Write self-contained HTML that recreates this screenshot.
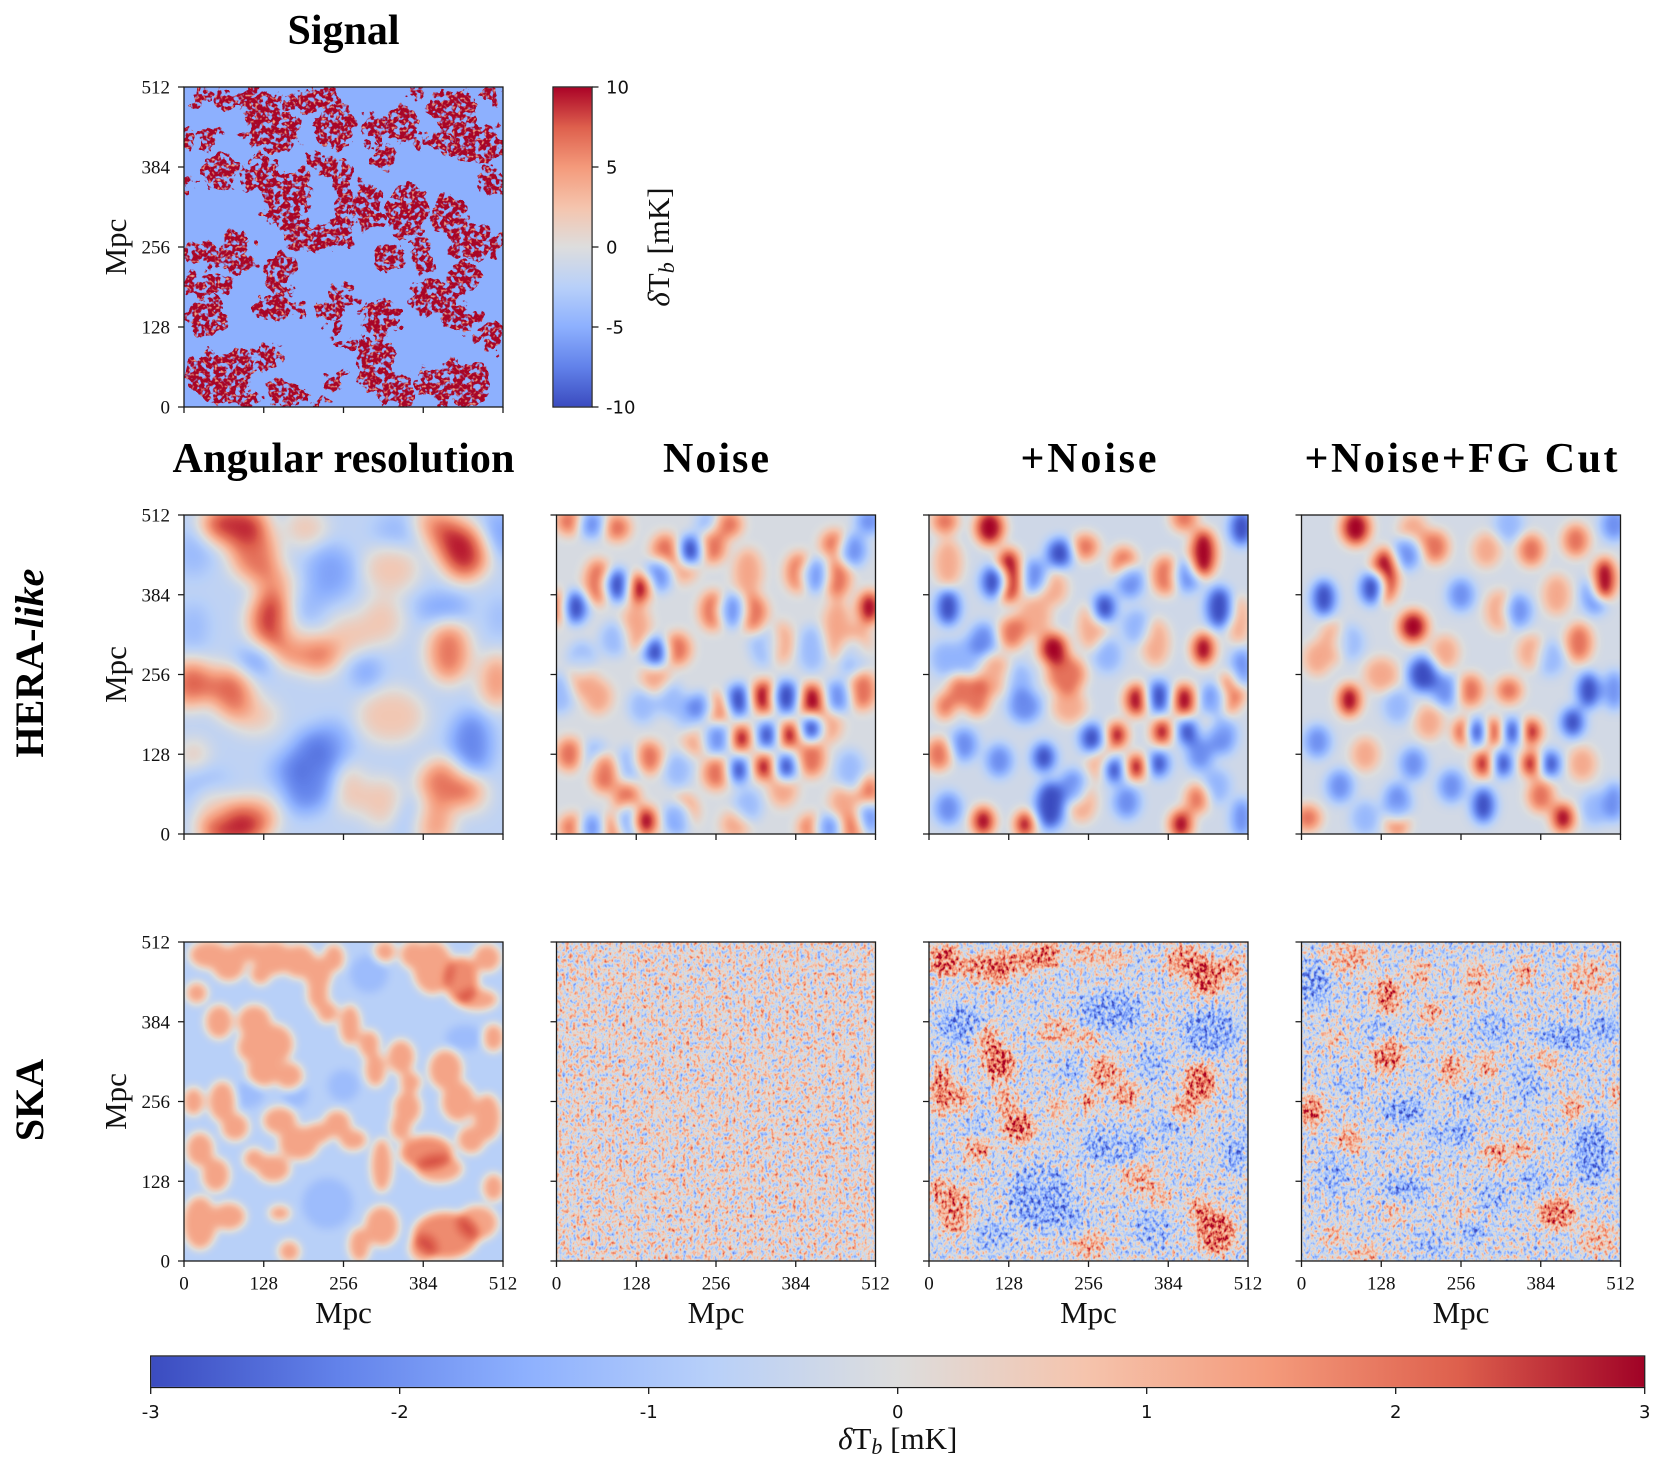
<!DOCTYPE html>
<html><head><meta charset="utf-8"><style>html,body{margin:0;padding:0;background:#fff;width:1666px;height:1472px;overflow:hidden}svg{display:block}</style></head>
<body>
<svg width="1666" height="1472" viewBox="0 0 1666 1472" xmlns="http://www.w3.org/2000/svg" font-family="'Liberation Serif', serif">
<defs>
<linearGradient id="gv" x1="0" y1="1" x2="0" y2="0">
<stop offset="0" stop-color="#3b4cc0"/><stop offset=".125" stop-color="#6282ea"/><stop offset=".25" stop-color="#8db0fe"/><stop offset=".375" stop-color="#b8d0f9"/><stop offset=".5" stop-color="#dddddd"/><stop offset=".625" stop-color="#f5c4ad"/><stop offset=".75" stop-color="#f49a7b"/><stop offset=".875" stop-color="#de604d"/><stop offset="1" stop-color="#ab0427"/>
</linearGradient>
<linearGradient id="gh" x1="0" y1="0" x2="1" y2="0">
<stop offset="0" stop-color="#3b4cc0"/><stop offset=".125" stop-color="#6282ea"/><stop offset=".25" stop-color="#8db0fe"/><stop offset=".375" stop-color="#b8d0f9"/><stop offset=".5" stop-color="#dddddd"/><stop offset=".625" stop-color="#f5c4ad"/><stop offset=".75" stop-color="#f49a7b"/><stop offset=".875" stop-color="#de604d"/><stop offset="1" stop-color="#a00226"/>
</linearGradient>
<filter id="fHa" filterUnits="userSpaceOnUse" x="-10" y="-10" width="120" height="120" color-interpolation-filters="sRGB">
<feGaussianBlur stdDeviation="3"/>
<feComponentTransfer><feFuncR type="table" tableValues="0.231 0.384 0.553 0.722 0.867 0.961 0.957 0.871 0.67"/><feFuncG type="table" tableValues="0.298 0.510 0.690 0.816 0.867 0.769 0.604 0.376 0.01"/><feFuncB type="table" tableValues="0.753 0.918 0.996 0.976 0.867 0.678 0.482 0.302 0.15"/></feComponentTransfer>
</filter>
<filter id="fHn" filterUnits="userSpaceOnUse" x="-10" y="-10" width="120" height="120" color-interpolation-filters="sRGB">
<feGaussianBlur stdDeviation="1.8"/>
<feComponentTransfer><feFuncR type="table" tableValues="0.231 0.384 0.553 0.722 0.867 0.961 0.957 0.871 0.64"/><feFuncG type="table" tableValues="0.298 0.510 0.690 0.816 0.867 0.769 0.604 0.376 0.0"/><feFuncB type="table" tableValues="0.753 0.918 0.996 0.976 0.867 0.678 0.482 0.302 0.15"/></feComponentTransfer>
</filter>
<filter id="fSa" filterUnits="userSpaceOnUse" x="-10" y="-10" width="120" height="120" color-interpolation-filters="sRGB">
<feGaussianBlur stdDeviation="1.3"/>
<feComponentTransfer><feFuncR type="table" tableValues="0.231 0.384 0.553 0.722 0.867 0.961 0.957 0.871 0.67"/><feFuncG type="table" tableValues="0.298 0.510 0.690 0.816 0.867 0.769 0.604 0.376 0.01"/><feFuncB type="table" tableValues="0.753 0.918 0.996 0.976 0.867 0.678 0.482 0.302 0.15"/></feComponentTransfer>
</filter>
<filter id="fSn" filterUnits="userSpaceOnUse" x="-5" y="-5" width="110" height="110" color-interpolation-filters="sRGB">
<feTurbulence type="fractalNoise" baseFrequency="0.9 0.7" numOctaves="2" seed="4"/>
<feColorMatrix type="matrix" values="1.0 0 0 0 0.02  1.0 0 0 0 0.02  1.0 0 0 0 0.02  0 0 0 0 1"/>
<feComponentTransfer><feFuncR type="table" tableValues="0.231 0.384 0.553 0.722 0.867 0.961 0.957 0.871 0.67"/><feFuncG type="table" tableValues="0.298 0.510 0.690 0.816 0.867 0.769 0.604 0.376 0.01"/><feFuncB type="table" tableValues="0.753 0.918 0.996 0.976 0.867 0.678 0.482 0.302 0.15"/></feComponentTransfer>
</filter>
<filter id="fSk" filterUnits="userSpaceOnUse" x="-10" y="-10" width="120" height="120" color-interpolation-filters="sRGB">
<feGaussianBlur in="SourceGraphic" stdDeviation="1.6" result="b"/>
<feTurbulence type="fractalNoise" baseFrequency="0.9 0.7" numOctaves="2" seed="9" result="n"/>
<feColorMatrix in="n" type="matrix" values="1 0 0 0 0  1 0 0 0 0  1 0 0 0 0  0 0 0 0 1" result="g"/>
<feComposite in="b" in2="g" operator="arithmetic" k1="0" k2="1" k3="1.0" k4="-0.5"/>
<feComponentTransfer><feFuncR type="table" tableValues="0.231 0.384 0.553 0.722 0.867 0.961 0.957 0.871 0.67"/><feFuncG type="table" tableValues="0.298 0.510 0.690 0.816 0.867 0.769 0.604 0.376 0.01"/><feFuncB type="table" tableValues="0.753 0.918 0.996 0.976 0.867 0.678 0.482 0.302 0.15"/></feComponentTransfer>
</filter>
<filter id="fSig" filterUnits="userSpaceOnUse" x="-5" y="-5" width="110" height="110" color-interpolation-filters="sRGB">
<feTurbulence type="fractalNoise" baseFrequency="0.22" numOctaves="3" seed="2" result="t"/>
<feDisplacementMap in="SourceGraphic" in2="t" scale="8" xChannelSelector="R" yChannelSelector="G" result="d"/>
<feTurbulence type="fractalNoise" baseFrequency="0.6" numOctaves="2" seed="11" result="h"/>
<feColorMatrix in="h" type="matrix" values="0 0 0 0 0  0 0 0 0 0  0 0 0 0 0  -9 0 0 0 5.6" result="hm"/>
<feComposite in="d" in2="hm" operator="in" result="d2"/>
<feTurbulence type="fractalNoise" baseFrequency="1.1" numOctaves="1" seed="5" result="s"/>
<feColorMatrix in="s" type="matrix" values="0 0 0 0 0.91  0 0 0 0 0.64  0 0 0 0 0.54  5 0 0 0 -2.7" result="sp"/>
<feComposite in="sp" in2="d2" operator="in" result="sp2"/>
<feMerge><feMergeNode in="d2"/><feMergeNode in="sp2"/></feMerge>
</filter>
</defs>

<!-- ================= SIGNAL ================= -->
<svg x="184" y="87" width="319" height="320" viewBox="0 0 100 100" preserveAspectRatio="none">
<rect x="-5" y="-5" width="110" height="110" fill="#8db0fe"/>
<g filter="url(#fSig)" fill="#a80527">
<ellipse cx="6" cy="3" rx="3" ry="3"/><ellipse cx="20" cy="4" rx="10" ry="4"/><ellipse cx="27" cy="10" rx="8" ry="4"/><ellipse cx="8" cy="16" rx="4" ry="3"/><ellipse cx="28" cy="15" rx="9" ry="5"/><ellipse cx="40" cy="4" rx="9" ry="4"/><ellipse cx="47" cy="12" rx="6" ry="7"/><ellipse cx="60" cy="13" rx="4" ry="5"/><ellipse cx="62" cy="22" rx="4" ry="4"/><ellipse cx="69" cy="12" rx="5" ry="6"/><ellipse cx="72" cy="2" rx="3" ry="2"/><ellipse cx="73" cy="17" rx="2" ry="3"/><ellipse cx="85" cy="8" rx="8" ry="7"/><ellipse cx="92" cy="18" rx="8" ry="7"/><ellipse cx="80" cy="17" rx="4" ry="4"/><ellipse cx="97" cy="2" rx="3" ry="2"/><ellipse cx="97" cy="18" rx="3" ry="4"/><ellipse cx="1" cy="16" rx="2" ry="4"/>
<ellipse cx="11" cy="27" rx="5" ry="6"/><ellipse cx="1" cy="31" rx="2" ry="2"/><ellipse cx="24" cy="27" rx="7" ry="5"/><ellipse cx="31" cy="36" rx="6" ry="9"/><ellipse cx="37" cy="32" rx="3" ry="8"/><ellipse cx="35" cy="45" rx="6" ry="4"/><ellipse cx="41" cy="22" rx="4" ry="1.5"/><ellipse cx="42" cy="47" rx="11" ry="4"/><ellipse cx="47" cy="26" rx="5" ry="4"/><ellipse cx="50" cy="38" rx="3" ry="10"/><ellipse cx="57" cy="37" rx="4" ry="7"/><ellipse cx="61" cy="41" rx="3" ry="3"/><ellipse cx="70" cy="38" rx="6" ry="9"/><ellipse cx="75" cy="52" rx="4" ry="6"/><ellipse cx="65" cy="53" rx="4" ry="5"/><ellipse cx="83" cy="40" rx="5" ry="6"/><ellipse cx="90" cy="48" rx="8" ry="6"/><ellipse cx="87" cy="60" rx="5" ry="5"/><ellipse cx="96" cy="30" rx="4" ry="4"/><ellipse cx="98" cy="50" rx="2" ry="5"/>
<ellipse cx="6" cy="52" rx="6" ry="4"/><ellipse cx="16" cy="52" rx="6" ry="7"/><ellipse cx="8" cy="62" rx="7" ry="4"/><ellipse cx="7" cy="72" rx="7" ry="6"/><ellipse cx="30" cy="69" rx="8" ry="4"/><ellipse cx="30" cy="58" rx="5" ry="7"/><ellipse cx="45" cy="70" rx="4" ry="3"/><ellipse cx="50" cy="66" rx="5" ry="3"/><ellipse cx="47" cy="75" rx="2" ry="2"/><ellipse cx="52" cy="80" rx="3" ry="2"/>
<ellipse cx="62" cy="72" rx="6" ry="6"/><ellipse cx="60" cy="86" rx="6" ry="10"/><ellipse cx="66" cy="95" rx="6" ry="5"/><ellipse cx="77" cy="66" rx="8" ry="5"/><ellipse cx="86" cy="72" rx="6" ry="4"/><ellipse cx="85" cy="93" rx="12" ry="7"/><ellipse cx="96" cy="78" rx="4" ry="5"/><ellipse cx="10" cy="90" rx="10" ry="8"/><ellipse cx="18" cy="97" rx="5" ry="3"/><ellipse cx="16" cy="87" rx="6" ry="5"/><ellipse cx="27" cy="84" rx="5" ry="3"/><ellipse cx="32" cy="96" rx="6" ry="4"/><ellipse cx="47" cy="92" rx="3" ry="3"/><ellipse cx="42" cy="99" rx="2" ry="1.5"/>
</g>
</svg>

<!-- ================= HERA angular ================= -->
<svg x="184" y="515" width="319" height="319" viewBox="0 0 100 100" preserveAspectRatio="none">
<g filter="url(#fHa)">
<rect x="-10" y="-10" width="120" height="120" fill="rgb(102,102,102)"/>
<g fill="#fff" stroke="#fff" stroke-width="3" opacity=".9"><ellipse cx="16" cy="3" rx="9" ry="5"/><ellipse cx="15" cy="98" rx="9" ry="5"/><ellipse cx="27" cy="33" rx="5" ry="7"/><ellipse cx="88" cy="12" rx="6" ry="7"/></g>
<g fill="#fff" stroke="#fff" stroke-width="3" opacity=".72"><ellipse cx="22" cy="12" rx="6" ry="7"/><ellipse cx="35" cy="41" rx="6" ry="5"/><ellipse cx="42" cy="44" rx="5" ry="4"/><ellipse cx="84" cy="8" rx="5" ry="6"/><ellipse cx="83" cy="43" rx="5" ry="8"/><ellipse cx="2" cy="53" rx="5" ry="6"/><ellipse cx="15" cy="56" rx="5" ry="6"/><ellipse cx="83" cy="84" rx="8" ry="6"/></g>
<g fill="#fff" stroke="#fff" stroke-width="3" opacity=".58"><ellipse cx="78" cy="3" rx="5" ry="4"/><ellipse cx="98" cy="52" rx="4" ry="7"/><ellipse cx="78" cy="97" rx="5" ry="5"/><ellipse cx="22" cy="95" rx="6" ry="5"/><ellipse cx="10" cy="92" rx="6" ry="5"/><ellipse cx="28" cy="22" rx="4" ry="5"/></g>
<g fill="#fff" stroke="#fff" stroke-width="3" opacity=".35"><ellipse cx="65" cy="17" rx="7" ry="6"/><ellipse cx="9" cy="52" rx="8" ry="4"/><ellipse cx="22" cy="63" rx="6" ry="4"/><ellipse cx="65" cy="63" rx="9" ry="7"/><ellipse cx="52" cy="38" rx="6" ry="5"/><ellipse cx="62" cy="33" rx="5" ry="6"/><ellipse cx="3" cy="75" rx="3" ry="3"/><ellipse cx="62" cy="90" rx="5" ry="6"/><ellipse cx="52" cy="86" rx="3" ry="6"/><ellipse cx="38" cy="4" rx="5" ry="4"/><ellipse cx="90" cy="88" rx="4" ry="4"/></g>
<g fill="#000" stroke="#000" stroke-width="3" opacity=".65"><ellipse cx="40" cy="80" rx="6" ry="11"/><ellipse cx="38" cy="87" rx="5" ry="5"/><ellipse cx="90" cy="72" rx="5" ry="9"/></g>
<g fill="#000" stroke="#000" stroke-width="3" opacity=".45"><ellipse cx="46" cy="72" rx="5" ry="6"/><ellipse cx="33" cy="80" rx="5" ry="4"/><ellipse cx="46" cy="18" rx="6" ry="7"/><ellipse cx="22" cy="46" rx="4" ry="3"/><ellipse cx="57" cy="49" rx="3" ry="4"/><ellipse cx="99" cy="6" rx="4" ry="6"/><ellipse cx="81" cy="29" rx="7" ry="3"/></g>
<g fill="#000" stroke="#000" stroke-width="3" opacity=".28"><ellipse cx="3" cy="12" rx="4" ry="6"/><ellipse cx="67" cy="5" rx="6" ry="4"/><ellipse cx="36" cy="36" rx="4" ry="4"/><ellipse cx="7" cy="88" rx="7" ry="7"/><ellipse cx="71" cy="95" rx="3" ry="5"/><ellipse cx="99" cy="32" rx="2" ry="5"/><ellipse cx="40" cy="28" rx="3" ry="3"/><ellipse cx="3" cy="35" rx="3" ry="6"/></g>
</g>
</svg>

<!-- ================= HERA noise ================= -->
<svg x="556.5" y="515" width="319" height="319" viewBox="0 0 100 100" preserveAspectRatio="none">
<g filter="url(#fHn)">
<rect x="-10" y="-10" width="120" height="120" fill="rgb(122,122,122)"/>
<g fill="#fff" stroke="#fff" stroke-width="3" opacity=".45"><ellipse cx="40" cy="16" rx="3" ry="4"/><ellipse cx="88" cy="36" rx="3" ry="8"/><ellipse cx="44" cy="70" rx="3" ry="4"/><ellipse cx="85" cy="66" rx="3" ry="4"/><ellipse cx="90" cy="90" rx="3" ry="4"/><ellipse cx="71" cy="86" rx="3" ry="4"/><ellipse cx="56" cy="97" rx="3" ry="3"/><ellipse cx="8" cy="51" rx="3" ry="5"/><ellipse cx="13" cy="57" rx="3" ry="4"/><ellipse cx="31" cy="51" rx="3" ry="4"/><ellipse cx="25" cy="35" rx="3" ry="6"/><ellipse cx="60" cy="18" rx="3" ry="6"/><ellipse cx="70" cy="40" rx="3" ry="5"/><ellipse cx="95" cy="40" rx="2" ry="5"/></g>
<g fill="#000" stroke="#000" stroke-width="3" opacity=".38"><ellipse cx="48" cy="3" rx="3" ry="3"/><ellipse cx="60" cy="91" rx="3" ry="4"/><ellipse cx="42" cy="63" rx="3" ry="4"/><ellipse cx="80" cy="42" rx="3" ry="6"/><ellipse cx="65" cy="40" rx="3" ry="6"/><ellipse cx="18" cy="39" rx="3" ry="4"/><ellipse cx="1" cy="56" rx="3" ry="5"/><ellipse cx="12" cy="76" rx="3" ry="4"/><ellipse cx="23" cy="78" rx="3" ry="4"/><ellipse cx="38" cy="80" rx="3" ry="4"/><ellipse cx="92" cy="80" rx="3" ry="5"/><ellipse cx="8" cy="45" rx="3" ry="4"/><ellipse cx="27" cy="60" rx="3" ry="4"/><ellipse cx="36" cy="58" rx="3" ry="4"/><ellipse cx="93" cy="45" rx="3" ry="5"/></g>
<g fill="#fff" stroke="#fff" stroke-width="2.5" opacity=".7"><ellipse cx="0" cy="29" rx="2" ry="4"/><ellipse cx="49" cy="10" rx="3" ry="4"/><ellipse cx="4" cy="2" rx="3" ry="3"/><ellipse cx="19" cy="4" rx="3" ry="3"/><ellipse cx="54" cy="3" rx="3" ry="3"/><ellipse cx="38" cy="42" rx="3" ry="4"/><ellipse cx="62" cy="31" rx="3" ry="5"/><ellipse cx="76" cy="18" rx="3" ry="5"/><ellipse cx="88" cy="20" rx="3" ry="5"/><ellipse cx="87" cy="9" rx="3" ry="3"/><ellipse cx="96" cy="55" rx="3" ry="5"/><ellipse cx="13" cy="21" rx="3" ry="6"/><ellipse cx="34" cy="11" rx="3" ry="4"/><ellipse cx="49" cy="30" rx="3" ry="5"/><ellipse cx="4" cy="75" rx="3" ry="4"/><ellipse cx="15" cy="81" rx="3" ry="5"/><ellipse cx="29" cy="76" rx="3" ry="4"/><ellipse cx="50" cy="81" rx="3" ry="4"/><ellipse cx="50" cy="61" rx="3" ry="4"/><ellipse cx="80" cy="76" rx="3" ry="5"/><ellipse cx="80" cy="98" rx="3" ry="3"/><ellipse cx="93" cy="98" rx="3" ry="3"/><ellipse cx="98" cy="87" rx="2" ry="4"/><ellipse cx="5" cy="98" rx="3" ry="3"/><ellipse cx="18" cy="98" rx="3" ry="3"/><ellipse cx="40" cy="93" rx="3" ry="4"/><ellipse cx="22" cy="89" rx="3" ry="4"/></g>
<g fill="#000" stroke="#000" stroke-width="2.5" opacity=".65"><ellipse cx="88" cy="57" rx="3" ry="4"/><ellipse cx="81" cy="19" rx="3" ry="4"/><ellipse cx="55" cy="30" rx="3" ry="4"/><ellipse cx="32" cy="19" rx="3" ry="4"/><ellipse cx="11" cy="3" rx="3" ry="3"/><ellipse cx="23" cy="96" rx="3" ry="4"/><ellipse cx="38" cy="95" rx="3" ry="4"/><ellipse cx="11" cy="98" rx="3" ry="3"/><ellipse cx="85" cy="98" rx="3" ry="3"/><ellipse cx="50" cy="70" rx="3" ry="4"/><ellipse cx="98" cy="2" rx="3" ry="3"/><ellipse cx="93" cy="11" rx="3" ry="4"/><ellipse cx="98" cy="95" rx="2" ry="4"/><ellipse cx="45" cy="60" rx="3" ry="3"/></g>
<g fill="#fff" stroke="#fff" stroke-width="1.5"><ellipse cx="26" cy="23" rx="3" ry="4"/><ellipse cx="98" cy="29" rx="3" ry="4.5"/><ellipse cx="65" cy="57" rx="3.5" ry="4.5"/><ellipse cx="80" cy="58" rx="3.5" ry="4.5"/><ellipse cx="58" cy="70" rx="2.5" ry="3.5"/><ellipse cx="73" cy="69" rx="2.5" ry="3.5"/><ellipse cx="65" cy="79" rx="2.5" ry="3.5"/><ellipse cx="28" cy="96" rx="3" ry="4"/></g>
<g fill="#000" stroke="#000" stroke-width="1.5"><ellipse cx="19" cy="22" rx="3" ry="4.5"/><ellipse cx="6" cy="29" rx="3" ry="4.5"/><ellipse cx="31" cy="43" rx="3" ry="4"/><ellipse cx="42" cy="11" rx="3" ry="4"/><ellipse cx="72" cy="57" rx="3.5" ry="4.5"/><ellipse cx="57" cy="58" rx="3" ry="4.5"/><ellipse cx="66" cy="69" rx="2.5" ry="3.5"/><ellipse cx="80" cy="67" rx="2.5" ry="3.5"/><ellipse cx="57" cy="80" rx="2.5" ry="3.5"/><ellipse cx="72" cy="79" rx="2.5" ry="3.5"/></g>
</g>
</svg>

<!-- ================= HERA +Noise ================= -->
<svg x="929" y="515" width="319" height="319" viewBox="0 0 100 100" preserveAspectRatio="none">
<g filter="url(#fHn)">
<rect x="-10" y="-10" width="120" height="120" fill="rgb(115,115,115)"/>
<g fill="#fff" stroke="#fff" stroke-width="3" opacity=".45"><ellipse cx="51" cy="35" rx="3" ry="6"/><ellipse cx="71" cy="40" rx="3" ry="6"/><ellipse cx="54" cy="78" rx="3" ry="4"/><ellipse cx="39" cy="23" rx="3" ry="4"/><ellipse cx="33" cy="32" rx="4" ry="5"/><ellipse cx="20" cy="50" rx="5" ry="5"/><ellipse cx="44" cy="60" rx="4" ry="4"/><ellipse cx="91" cy="62" rx="3" ry="5"/><ellipse cx="6" cy="15" rx="3" ry="6"/><ellipse cx="97" cy="33" rx="2" ry="6"/><ellipse cx="48" cy="90" rx="3" ry="5"/></g>
<g fill="#000" stroke="#000" stroke-width="3" opacity=".4"><ellipse cx="12" cy="45" rx="4" ry="5"/><ellipse cx="28" cy="52" rx="3" ry="4"/><ellipse cx="56" cy="44" rx="3" ry="4"/><ellipse cx="65" cy="35" rx="3" ry="4"/><ellipse cx="90" cy="85" rx="3" ry="4"/><ellipse cx="5" cy="45" rx="3" ry="4"/></g>
<g fill="#fff" stroke="#fff" stroke-width="2.5" opacity=".7"><ellipse cx="80" cy="1" rx="3" ry="3"/><ellipse cx="95" cy="55" rx="3" ry="5"/><ellipse cx="5" cy="2" rx="3" ry="3"/><ellipse cx="84" cy="89" rx="2.5" ry="3.5"/><ellipse cx="74" cy="19" rx="3" ry="5"/><ellipse cx="61" cy="15" rx="3" ry="4"/><ellipse cx="49" cy="10" rx="3" ry="3"/><ellipse cx="26" cy="37" rx="3" ry="4"/><ellipse cx="15" cy="57" rx="3" ry="5"/><ellipse cx="3" cy="75" rx="3" ry="4"/><ellipse cx="10" cy="55" rx="3" ry="4"/><ellipse cx="43" cy="50" rx="5" ry="5"/><ellipse cx="5" cy="60" rx="2" ry="3"/></g>
<g fill="#000" stroke="#000" stroke-width="2.5" opacity=".65"><ellipse cx="33" cy="19" rx="3" ry="4"/><ellipse cx="85" cy="75" rx="3" ry="4"/><ellipse cx="89" cy="58" rx="3" ry="4"/><ellipse cx="17" cy="39" rx="3" ry="4"/><ellipse cx="22" cy="77" rx="3" ry="4"/><ellipse cx="11" cy="72" rx="3" ry="4"/><ellipse cx="6" cy="92" rx="3" ry="4"/><ellipse cx="63" cy="21" rx="3" ry="4"/><ellipse cx="81" cy="19" rx="3" ry="4"/><ellipse cx="98" cy="95" rx="2" ry="5"/><ellipse cx="92" cy="69" rx="3" ry="5"/><ellipse cx="98" cy="48" rx="2" ry="5"/><ellipse cx="30" cy="60" rx="4" ry="4"/><ellipse cx="45" cy="85" rx="3" ry="4"/><ellipse cx="62" cy="90" rx="3" ry="4"/></g>
<g fill="#fff" stroke="#fff" stroke-width="1.5"><ellipse cx="19" cy="4" rx="4" ry="5"/><ellipse cx="25" cy="19" rx="3.5" ry="8"/><ellipse cx="39" cy="42" rx="4" ry="4.5"/><ellipse cx="65" cy="58" rx="3" ry="4.5"/><ellipse cx="80" cy="58" rx="3" ry="4.5"/><ellipse cx="73" cy="68" rx="2.5" ry="3.5"/><ellipse cx="59" cy="69" rx="2.5" ry="3.5"/><ellipse cx="65" cy="79" rx="2.5" ry="3.5"/><ellipse cx="86" cy="12" rx="3.5" ry="7"/><ellipse cx="86" cy="42" rx="3" ry="4.5"/><ellipse cx="17" cy="96" rx="3" ry="4"/><ellipse cx="30" cy="97" rx="2.5" ry="3.5"/><ellipse cx="79" cy="97" rx="3" ry="4"/></g>
<g fill="#000" stroke="#000" stroke-width="1.5"><ellipse cx="20" cy="21" rx="3" ry="4.5"/><ellipse cx="6" cy="29" rx="3" ry="5"/><ellipse cx="41" cy="12" rx="3.5" ry="4"/><ellipse cx="55" cy="29" rx="3" ry="4"/><ellipse cx="72" cy="57" rx="3" ry="4.5"/><ellipse cx="51" cy="70" rx="3" ry="4"/><ellipse cx="81" cy="68" rx="2.5" ry="3.5"/><ellipse cx="58" cy="80" rx="2.5" ry="3.5"/><ellipse cx="72" cy="78" rx="2.5" ry="3.5"/><ellipse cx="38" cy="91" rx="4" ry="7"/><ellipse cx="36" cy="76" rx="3" ry="4"/><ellipse cx="91" cy="29" rx="3.5" ry="6"/><ellipse cx="98" cy="4" rx="3" ry="5"/></g>
</g>
</svg>

<!-- ================= HERA +Noise+FG ================= -->
<svg x="1301.5" y="515" width="319" height="319" viewBox="0 0 100 100" preserveAspectRatio="none">
<g filter="url(#fHn)">
<rect x="-10" y="-10" width="120" height="120" fill="rgb(118,118,118)"/>
<g fill="#fff" stroke="#fff" stroke-width="3" opacity=".45"><ellipse cx="72" cy="43" rx="3" ry="4"/><ellipse cx="45" cy="43" rx="3" ry="4"/><ellipse cx="58" cy="11" rx="3" ry="4"/><ellipse cx="10" cy="40" rx="3" ry="5"/><ellipse cx="25" cy="50" rx="4" ry="4"/><ellipse cx="20" cy="75" rx="3" ry="4"/><ellipse cx="88" cy="78" rx="3" ry="4"/><ellipse cx="40" cy="65" rx="3" ry="4"/><ellipse cx="5" cy="45" rx="3" ry="4"/><ellipse cx="62" cy="30" rx="3" ry="5"/><ellipse cx="80" cy="25" rx="3" ry="5"/><ellipse cx="35" cy="5" rx="3" ry="4"/></g>
<g fill="#000" stroke="#000" stroke-width="3" opacity=".38"><ellipse cx="15" cy="40" rx="3" ry="4"/><ellipse cx="30" cy="60" rx="3" ry="4"/><ellipse cx="78" cy="45" rx="3" ry="4"/><ellipse cx="65" cy="3" rx="3" ry="4"/><ellipse cx="20" cy="95" rx="3" ry="4"/><ellipse cx="92" cy="92" rx="3" ry="4"/></g>
<g fill="#fff" stroke="#fff" stroke-width="2.5" opacity=".7"><ellipse cx="2" cy="95" rx="3" ry="3"/><ellipse cx="86" cy="8" rx="3" ry="4"/><ellipse cx="87" cy="40" rx="3" ry="5"/><ellipse cx="72" cy="11" rx="3" ry="4"/><ellipse cx="42" cy="10" rx="3" ry="4"/><ellipse cx="75" cy="88" rx="3" ry="4"/><ellipse cx="53" cy="55" rx="3" ry="4"/><ellipse cx="65" cy="55" rx="3" ry="3"/><ellipse cx="30" cy="96" rx="2.5" ry="3.5"/></g>
<g fill="#000" stroke="#000" stroke-width="2.5" opacity=".65"><ellipse cx="98" cy="55" rx="2" ry="5"/><ellipse cx="5" cy="71" rx="3" ry="4"/><ellipse cx="92" cy="25" rx="3" ry="5"/><ellipse cx="45" cy="55" rx="3" ry="4"/><ellipse cx="35" cy="78" rx="3" ry="4"/><ellipse cx="30" cy="90" rx="3" ry="5"/><ellipse cx="12" cy="85" rx="3" ry="4"/><ellipse cx="68" cy="30" rx="3" ry="4"/><ellipse cx="50" cy="25" rx="3" ry="4"/><ellipse cx="98" cy="90" rx="2" ry="5"/><ellipse cx="47" cy="85" rx="3" ry="4"/><ellipse cx="98" cy="3" rx="3" ry="4"/><ellipse cx="33" cy="12" rx="3" ry="4"/></g>
<g fill="#fff" stroke="#fff" stroke-width="1.5"><ellipse cx="17" cy="4" rx="4" ry="5"/><ellipse cx="26" cy="19" rx="3.5" ry="8"/><ellipse cx="35" cy="35" rx="4" ry="4.5"/><ellipse cx="15" cy="58" rx="3" ry="4.5"/><ellipse cx="51" cy="68" rx="2.5" ry="3.5"/><ellipse cx="60" cy="68" rx="2.5" ry="3.5"/><ellipse cx="72" cy="68" rx="2.5" ry="3.5"/><ellipse cx="57" cy="78" rx="2.5" ry="3.5"/><ellipse cx="72" cy="78" rx="2.5" ry="3.5"/><ellipse cx="95" cy="20" rx="3" ry="6"/><ellipse cx="82" cy="95" rx="3" ry="4"/></g>
<g fill="#000" stroke="#000" stroke-width="1.5"><ellipse cx="7" cy="26" rx="3" ry="5"/><ellipse cx="22" cy="23" rx="3" ry="4.5"/><ellipse cx="38" cy="50" rx="4" ry="5"/><ellipse cx="55" cy="68" rx="2.5" ry="3.5"/><ellipse cx="66" cy="68" rx="2.5" ry="3.5"/><ellipse cx="63" cy="78" rx="2.5" ry="3.5"/><ellipse cx="78" cy="78" rx="2.5" ry="3.5"/><ellipse cx="57" cy="91" rx="3" ry="5"/><ellipse cx="90" cy="55" rx="3" ry="5"/><ellipse cx="85" cy="65" rx="3" ry="4"/></g>
</g>
</svg>

<!-- ================= SKA angular ================= -->
<svg x="184" y="942" width="319" height="319" viewBox="0 0 100 100" preserveAspectRatio="none">
<g filter="url(#fSa)">
<rect x="-10" y="-10" width="120" height="120" fill="rgb(96,96,96)"/>
<g fill="#000" opacity=".2"><ellipse cx="45" cy="82" rx="8" ry="8"/><ellipse cx="88" cy="30" rx="6" ry="4"/><ellipse cx="58" cy="10" rx="6" ry="6"/><ellipse cx="20" cy="48" rx="5" ry="4"/><ellipse cx="35" cy="48" rx="4" ry="4"/><ellipse cx="50" cy="45" rx="5" ry="5"/></g>
<g fill="#fff" stroke="#fff" stroke-width="1" opacity=".55">
<ellipse cx="8" cy="4" rx="6" ry="4"/><ellipse cx="14" cy="7" rx="5" ry="5"/><ellipse cx="20" cy="3" rx="6" ry="3"/><ellipse cx="28" cy="5" rx="6" ry="5"/><ellipse cx="36" cy="6" rx="5" ry="5"/><ellipse cx="42" cy="10" rx="4" ry="5"/><ellipse cx="24" cy="10" rx="3" ry="3"/>
<ellipse cx="4" cy="16" rx="3" ry="3"/><ellipse cx="11" cy="25" rx="4" ry="5"/>
<ellipse cx="22" cy="25" rx="5" ry="5"/><ellipse cx="28" cy="32" rx="6" ry="6"/><ellipse cx="25" cy="40" rx="5" ry="5"/><ellipse cx="33" cy="42" rx="4" ry="4"/><ellipse cx="20" cy="33" rx="3" ry="4"/>
<ellipse cx="42" cy="16" rx="3" ry="5"/><ellipse cx="45" cy="22" rx="3" ry="3"/><ellipse cx="47" cy="5" rx="3" ry="4"/>
<ellipse cx="52" cy="26" rx="3" ry="6"/><ellipse cx="58" cy="32" rx="3" ry="4"/><ellipse cx="60" cy="40" rx="3" ry="5"/>
<ellipse cx="68" cy="36" rx="4" ry="5"/><ellipse cx="71" cy="44" rx="3" ry="3"/>
<ellipse cx="82" cy="40" rx="5" ry="6"/><ellipse cx="86" cy="50" rx="5" ry="6"/><ellipse cx="95" cy="55" rx="4" ry="7"/><ellipse cx="90" cy="62" rx="4" ry="4"/>
<ellipse cx="70" cy="52" rx="4" ry="5"/><ellipse cx="68" cy="58" rx="3" ry="4"/><ellipse cx="80" cy="71" rx="7" ry="4"/>
<ellipse cx="3" cy="50" rx="3" ry="4"/><ellipse cx="12" cy="50" rx="4" ry="6"/><ellipse cx="16" cy="58" rx="4" ry="4"/>
<ellipse cx="5" cy="65" rx="4" ry="5"/><ellipse cx="10" cy="73" rx="4" ry="5"/>
<ellipse cx="30" cy="56" rx="5" ry="4"/><ellipse cx="36" cy="63" rx="6" ry="5"/><ellipse cx="42" cy="60" rx="4" ry="3"/>
<ellipse cx="48" cy="57" rx="4" ry="4"/><ellipse cx="53" cy="62" rx="4" ry="3"/><ellipse cx="62" cy="70" rx="3" ry="8"/>
<ellipse cx="5" cy="88" rx="5" ry="8"/><ellipse cx="14" cy="86" rx="5" ry="4"/><ellipse cx="28" cy="71" rx="5" ry="4"/><ellipse cx="22" cy="68" rx="3" ry="3"/>
<ellipse cx="30" cy="85" rx="3" ry="2"/><ellipse cx="33" cy="97" rx="3" ry="3"/><ellipse cx="55" cy="95" rx="3" ry="5"/><ellipse cx="62" cy="89" rx="5" ry="6"/>
<ellipse cx="92" cy="88" rx="6" ry="5"/><ellipse cx="75" cy="96" rx="4" ry="4"/><ellipse cx="97" cy="77" rx="3" ry="4"/>
<ellipse cx="92" cy="18" rx="6" ry="3"/><ellipse cx="97" cy="30" rx="3" ry="4"/><ellipse cx="78" cy="8" rx="6" ry="8"/><ellipse cx="72" cy="4" rx="4" ry="4"/><ellipse cx="95" cy="5" rx="4" ry="4"/><ellipse cx="63" cy="3" rx="3" ry="3"/>
</g>
<g fill="#fff" stroke="#fff" stroke-width="1" opacity=".65"><ellipse cx="76" cy="66" rx="8" ry="5"/><ellipse cx="82" cy="92" rx="10" ry="7"/><ellipse cx="87" cy="12" rx="5" ry="7"/></g>
</g>
</svg>

<!-- ================= SKA noise ================= -->
<svg x="556.5" y="942" width="319" height="319" viewBox="0 0 100 100" preserveAspectRatio="none">
<rect x="-5" y="-5" width="110" height="110" fill="#888" filter="url(#fSn)"/>
</svg>

<!-- ================= SKA +Noise ================= -->
<svg x="929" y="942" width="319" height="319" viewBox="0 0 100 100" preserveAspectRatio="none">
<g filter="url(#fSk)">
<rect x="-10" y="-10" width="120" height="120" fill="rgb(115,115,115)"/>
<g fill="#fff" opacity=".7"><ellipse cx="5" cy="6" rx="5" ry="5"/><ellipse cx="22" cy="8" rx="4" ry="5"/><ellipse cx="37" cy="4" rx="4" ry="4"/><ellipse cx="87" cy="11" rx="5" ry="6"/><ellipse cx="22" cy="38" rx="5" ry="6"/><ellipse cx="4" cy="46" rx="3" ry="8"/><ellipse cx="28" cy="58" rx="5" ry="5"/><ellipse cx="85" cy="44" rx="5" ry="6"/><ellipse cx="90" cy="91" rx="6" ry="7"/></g>
<g fill="#fff" opacity=".55"><ellipse cx="15" cy="8" rx="5" ry="4"/><ellipse cx="30" cy="6" rx="5" ry="4"/><ellipse cx="80" cy="6" rx="6" ry="5"/><ellipse cx="95" cy="8" rx="3" ry="4"/><ellipse cx="10" cy="49" rx="3" ry="4"/><ellipse cx="18" cy="30" rx="4" ry="4"/><ellipse cx="24" cy="50" rx="3" ry="4"/><ellipse cx="55" cy="41" rx="5" ry="5"/><ellipse cx="62" cy="48" rx="4" ry="4"/><ellipse cx="50" cy="50" rx="3" ry="3"/><ellipse cx="80" cy="52" rx="4" ry="4"/><ellipse cx="8" cy="84" rx="5" ry="8"/><ellipse cx="3" cy="78" rx="3" ry="4"/><ellipse cx="85" cy="84" rx="4" ry="4"/><ellipse cx="15" cy="65" rx="4" ry="4"/></g>
<g fill="#fff" opacity=".38"><ellipse cx="50" cy="4" rx="6" ry="3"/><ellipse cx="58" cy="5" rx="4" ry="3"/><ellipse cx="40" cy="28" rx="6" ry="4"/><ellipse cx="50" cy="30" rx="4" ry="3"/><ellipse cx="66" cy="74" rx="6" ry="5"/><ellipse cx="72" cy="80" rx="4" ry="3"/><ellipse cx="50" cy="95" rx="6" ry="5"/><ellipse cx="35" cy="75" rx="3" ry="3"/><ellipse cx="95" cy="60" rx="3" ry="4"/><ellipse cx="40" cy="52" rx="3" ry="4"/><ellipse cx="60" cy="63" rx="3" ry="3"/></g>
<g fill="#000" opacity=".42"><ellipse cx="10" cy="26" rx="7" ry="6"/><ellipse cx="57" cy="22" rx="10" ry="6"/><ellipse cx="88" cy="28" rx="9" ry="7"/><ellipse cx="35" cy="80" rx="10" ry="10"/><ellipse cx="58" cy="64" rx="10" ry="5"/><ellipse cx="96" cy="64" rx="4" ry="8"/></g>
<g fill="#000" opacity=".28"><ellipse cx="45" cy="88" rx="5" ry="5"/><ellipse cx="70" cy="90" rx="6" ry="6"/><ellipse cx="20" cy="92" rx="6" ry="5"/><ellipse cx="70" cy="38" rx="4" ry="6"/><ellipse cx="45" cy="40" rx="4" ry="4"/><ellipse cx="15" cy="58" rx="3" ry="4"/><ellipse cx="75" cy="58" rx="5" ry="4"/></g>
</g>
</svg>

<!-- ================= SKA +Noise+FG ================= -->
<svg x="1301.5" y="942" width="319" height="319" viewBox="0 0 100 100" preserveAspectRatio="none">
<g filter="url(#fSk)">
<rect x="-10" y="-10" width="120" height="120" fill="rgb(115,115,115)"/>
<g fill="#fff" opacity=".65"><ellipse cx="27" cy="17" rx="4" ry="6"/><ellipse cx="27" cy="35" rx="5" ry="6"/><ellipse cx="3" cy="53" rx="4" ry="5"/><ellipse cx="80" cy="85" rx="6" ry="5"/></g>
<g fill="#fff" opacity=".5"><ellipse cx="41" cy="22" rx="4" ry="3"/><ellipse cx="47" cy="40" rx="4" ry="5"/><ellipse cx="58" cy="39" rx="3" ry="4"/><ellipse cx="70" cy="10" rx="3" ry="4"/><ellipse cx="85" cy="52" rx="3" ry="4"/><ellipse cx="99" cy="48" rx="2" ry="4"/><ellipse cx="15" cy="62" rx="4" ry="4"/><ellipse cx="61" cy="66" rx="4" ry="4"/><ellipse cx="69" cy="65" rx="3" ry="3"/></g>
<g fill="#fff" opacity=".36"><ellipse cx="15" cy="5" rx="8" ry="5"/><ellipse cx="10" cy="30" rx="3" ry="3"/><ellipse cx="55" cy="12" rx="4" ry="6"/><ellipse cx="90" cy="11" rx="7" ry="5"/><ellipse cx="93" cy="93" rx="6" ry="5"/><ellipse cx="10" cy="92" rx="4" ry="3"/><ellipse cx="20" cy="98" rx="5" ry="3"/><ellipse cx="29" cy="85" rx="3" ry="3"/><ellipse cx="51" cy="85" rx="3" ry="2"/><ellipse cx="37" cy="10" rx="4" ry="4"/><ellipse cx="77" cy="37" rx="4" ry="5"/><ellipse cx="45" cy="60" rx="3" ry="3"/></g>
<g fill="#000" opacity=".45"><ellipse cx="4" cy="13" rx="5" ry="7"/><ellipse cx="82" cy="30" rx="8" ry="4"/><ellipse cx="95" cy="27" rx="4" ry="4"/><ellipse cx="32" cy="53" rx="7" ry="4"/><ellipse cx="47" cy="60" rx="7" ry="4"/><ellipse cx="52" cy="49" rx="4" ry="2"/><ellipse cx="91" cy="66" rx="6" ry="10"/><ellipse cx="32" cy="77" rx="7" ry="3"/><ellipse cx="54" cy="91" rx="4" ry="3"/></g>
<g fill="#000" opacity=".28"><ellipse cx="14" cy="45" rx="5" ry="2"/><ellipse cx="10" cy="73" rx="5" ry="7"/><ellipse cx="71" cy="44" rx="5" ry="7"/><ellipse cx="60" cy="27" rx="6" ry="5"/><ellipse cx="25" cy="28" rx="5" ry="5"/><ellipse cx="60" cy="80" rx="5" ry="5"/><ellipse cx="40" cy="95" rx="5" ry="4"/><ellipse cx="73" cy="75" rx="5" ry="5"/></g>
</g>
</svg>

<!-- ================= Frames & ticks ================= -->
<g fill="none" stroke="#1a1a1a" stroke-width="1.3">
<rect x="184" y="87" width="319" height="320"/>
<rect x="184" y="515" width="319" height="319"/><rect x="556.5" y="515" width="319" height="319"/><rect x="929" y="515" width="319" height="319"/><rect x="1301.5" y="515" width="319" height="319"/>
<rect x="184" y="942" width="319" height="319"/><rect x="556.5" y="942" width="319" height="319"/><rect x="929" y="942" width="319" height="319"/><rect x="1301.5" y="942" width="319" height="319"/>
<rect x="553" y="87" width="39" height="320"/>
<rect x="150.7" y="1356" width="1494" height="31.5"/>
</g>
<g stroke="#1a1a1a" stroke-width="1.3">
<path d="M178 87H184M178 167H184M178 247H184M178 327H184M178 407H184"/>
<path d="M184 407V413M263.75 407V413M343.5 407V413M423.25 407V413M503 407V413"/>
<path d="M178 515H184M178 594.75H184M178 674.5H184M178 754.25H184M178 834H184"/>
<path d="M550.5 515H556.5M550.5 594.75H556.5M550.5 674.5H556.5M550.5 754.25H556.5M550.5 834H556.5"/>
<path d="M923 515H929M923 594.75H929M923 674.5H929M923 754.25H929M923 834H929"/>
<path d="M1295.5 515H1301.5M1295.5 594.75H1301.5M1295.5 674.5H1301.5M1295.5 754.25H1301.5M1295.5 834H1301.5"/>
<path d="M184 834V840M263.75 834V840M343.5 834V840M423.25 834V840M503 834V840"/>
<path d="M556.5 834V840M636.25 834V840M716 834V840M795.75 834V840M875.5 834V840"/>
<path d="M929 834V840M1008.75 834V840M1088.5 834V840M1168.25 834V840M1248 834V840"/>
<path d="M1301.5 834V840M1381.25 834V840M1461 834V840M1540.75 834V840M1620.5 834V840"/>
<path d="M178 942H184M178 1021.75H184M178 1101.5H184M178 1181.25H184M178 1261H184"/>
<path d="M550.5 942H556.5M550.5 1021.75H556.5M550.5 1101.5H556.5M550.5 1181.25H556.5M550.5 1261H556.5"/>
<path d="M923 942H929M923 1021.75H929M923 1101.5H929M923 1181.25H929M923 1261H929"/>
<path d="M1295.5 942H1301.5M1295.5 1021.75H1301.5M1295.5 1101.5H1301.5M1295.5 1181.25H1301.5M1295.5 1261H1301.5"/>
<path d="M184 1261V1267M263.75 1261V1267M343.5 1261V1267M423.25 1261V1267M503 1261V1267"/>
<path d="M556.5 1261V1267M636.25 1261V1267M716 1261V1267M795.75 1261V1267M875.5 1261V1267"/>
<path d="M929 1261V1267M1008.75 1261V1267M1088.5 1261V1267M1168.25 1261V1267M1248 1261V1267"/>
<path d="M1301.5 1261V1267M1381.25 1261V1267M1461 1261V1267M1540.75 1261V1267M1620.5 1261V1267"/>
<path d="M592 87H598.5M592 167H598.5M592 247H598.5M592 327H598.5M592 407H598.5"/>
<path d="M150.7 1387.5V1394M399.7 1387.5V1394M648.7 1387.5V1394M897.7 1387.5V1394M1146.7 1387.5V1394M1395.7 1387.5V1394M1644.7 1387.5V1394"/>
</g>
<rect x="553.6" y="87.6" width="37.8" height="318.8" fill="url(#gv)"/>
<rect x="151.3" y="1356.6" width="1492.8" height="30.3" fill="url(#gh)"/>

<!-- ================= Text ================= -->
<g font-size="19" fill="#111" text-anchor="end">
<text x="170" y="93.5">512</text><text x="170" y="173.5">384</text><text x="170" y="253.5">256</text><text x="170" y="333.5">128</text><text x="170" y="413.5">0</text>
<text x="170" y="521.5">512</text><text x="170" y="601.25">384</text><text x="170" y="681">256</text><text x="170" y="760.75">128</text><text x="170" y="840.5">0</text>
<text x="170" y="948.5">512</text><text x="170" y="1028.25">384</text><text x="170" y="1108">256</text><text x="170" y="1187.75">128</text><text x="170" y="1267.5">0</text>
</g>
<g font-size="19" fill="#111" text-anchor="middle">
<text x="184" y="1289.5">0</text><text x="263.75" y="1289.5">128</text><text x="343.5" y="1289.5">256</text><text x="423.25" y="1289.5">384</text><text x="503" y="1289.5">512</text>
<text x="556.5" y="1289.5">0</text><text x="636.25" y="1289.5">128</text><text x="716" y="1289.5">256</text><text x="795.75" y="1289.5">384</text><text x="875.5" y="1289.5">512</text>
<text x="929" y="1289.5">0</text><text x="1008.75" y="1289.5">128</text><text x="1088.5" y="1289.5">256</text><text x="1168.25" y="1289.5">384</text><text x="1248" y="1289.5">512</text>
<text x="1301.5" y="1289.5">0</text><text x="1381.25" y="1289.5">128</text><text x="1461" y="1289.5">256</text><text x="1540.75" y="1289.5">384</text><text x="1620.5" y="1289.5">512</text>
</g>
<g font-size="31" fill="#111" text-anchor="middle">
<text x="343.5" y="1323">Mpc</text><text x="716" y="1323">Mpc</text><text x="1088.5" y="1323">Mpc</text><text x="1461" y="1323">Mpc</text>
<text transform="translate(126,247) rotate(-90)">Mpc</text>
<text transform="translate(126,674.5) rotate(-90)">Mpc</text>
<text transform="translate(126,1101.5) rotate(-90)">Mpc</text>
<text transform="translate(669,247) rotate(-90)"><tspan font-style="italic">δ</tspan>T<tspan font-style="italic" font-size="22" dy="5">b</tspan><tspan dy="-5"> [mK]</tspan></text>
<text x="897.7" y="1449"><tspan font-style="italic">δ</tspan>T<tspan font-style="italic" font-size="22" dy="5">b</tspan><tspan dy="-5"> [mK]</tspan></text>
</g>
<g font-family="'DejaVu Sans', sans-serif" font-size="18" fill="#111">
<text x="606" y="93.5">10</text><text x="606" y="173.5">5</text><text x="606" y="253.5">0</text><text x="606" y="333.5">-5</text><text x="606" y="413.5">-10</text>
</g>
<g font-family="'DejaVu Sans', sans-serif" font-size="18" fill="#111" text-anchor="middle">
<text x="150.7" y="1418">-3</text><text x="399.7" y="1418">-2</text><text x="648.7" y="1418">-1</text><text x="897.7" y="1418">0</text><text x="1146.7" y="1418">1</text><text x="1395.7" y="1418">2</text><text x="1644.7" y="1418">3</text>
</g>
<g font-size="42" font-weight="bold" fill="#000" text-anchor="middle">
<text x="343.5" y="44" textLength="112" lengthAdjust="spacing">Signal</text>
<text x="343.5" y="472" textLength="342" lengthAdjust="spacing">Angular resolution</text>
<text x="716" y="472" textLength="106" lengthAdjust="spacing">Noise</text>
<text x="1088.5" y="472" textLength="136" lengthAdjust="spacing">+Noise</text>
<text x="1461" y="472" textLength="313" lengthAdjust="spacing">+Noise+FG Cut</text>
<text transform="translate(43,663) rotate(-90)" font-size="40">HERA-<tspan font-style="italic">like</tspan></text>
<text transform="translate(43,1100) rotate(-90)" font-size="40">SKA</text>
</g>
</svg>
</body></html>
